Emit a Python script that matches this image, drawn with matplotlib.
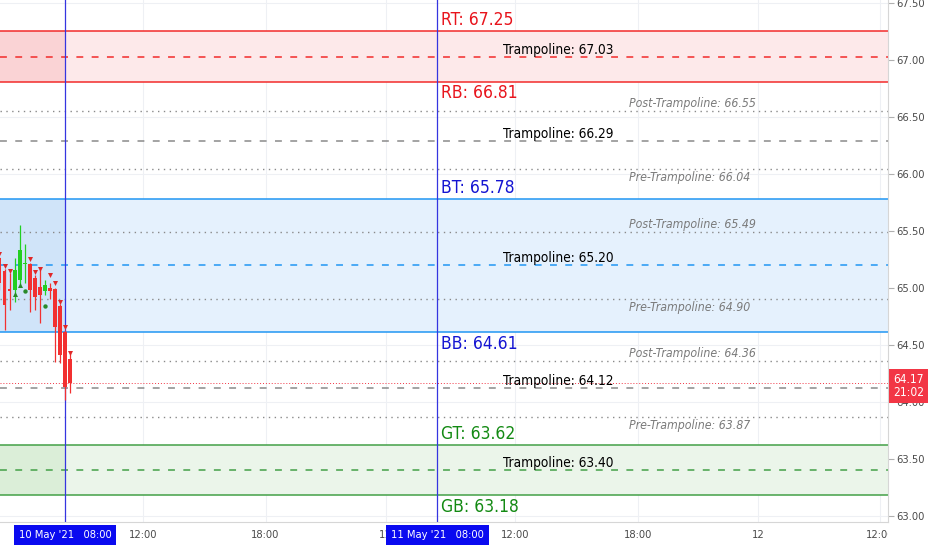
import matplotlib
matplotlib.use("Agg")
import matplotlib.pyplot as plt
from matplotlib.transforms import Bbox, TransformedBbox, blended_transform_factory
import numpy as np

# ---- levels -------------------------------------------------------------
zone_tags = ["R", "B", "G"]
zone_top = [67.25, 65.78, 63.62]
zone_bottom = [66.81, 64.61, 63.18]
zone_mid = [67.03, 65.20, 63.40]
gray_mid = [66.29, 64.12]
post_levels = [66.55, 65.49, 64.36]
pre_levels = [66.04, 64.90, 63.87]
last_price = 64.17
last_time = "21:02"

# ---- 15 min candles, x = bar index from 10 May '21 08:00 ----------------
bar_x = list(range(-13, 2))
opens = [65.26, 65.15, 64.99, 64.98, 65.07, 65.21, 65.21, 65.09, 65.01, 64.97,
         65.00, 64.99, 64.84, 64.61, 64.38]
highs = [65.27, 65.17, 65.13, 65.26, 65.55, 65.39, 65.22, 65.11, 65.16, 65.07,
         65.04, 65.00, 64.86, 64.63, 64.43]
lows = [64.98, 64.63, 64.81, 64.88, 65.03, 65.04, 64.79, 64.81, 64.69, 64.94,
        64.90, 64.35, 64.34, 64.02, 64.08]
closes = [65.04, 64.85, 64.97, 65.16, 65.33, 65.22, 64.98, 64.92, 64.94, 65.03,
          64.97, 64.66, 64.41, 64.13, 64.17]

# signal markers (bar, price)
sell_x = [-13, -12, -11, -7, -6, -5, -3, -2, -1, 0, 1]
sell_y = [65.30, 65.19, 65.15, 65.25, 65.14, 65.17, 65.11, 65.04, 64.88, 64.66, 64.43]
buy_x = [-10, -9]
buy_y = [64.95, 65.03]
dot_x = [-8, -4]
dot_y = [64.97, 64.84]

# ---- axis ---------------------------------------------------------------
session_x = [0, 73.7]
session_labels = ["10 May '21   08:00", "11 May '21   08:00"]
tick_x = [15.5, 39.7, 63.5, 89.2, 113.4, 137.3, 161.5]
tick_labels = ["12:00", "18:00", "11", "12:00", "18:00", "12", "12:00"]
price_ticks = np.arange(63.0, 67.51, 0.5)

colors = {"R": "#f22b2b", "B": "#2196f3", "G": "#43a047"}
text_colors = {"R": "#e8141c", "B": "#1414d2", "G": "#138a13"}
band_fill = {"R": "#fde9ea", "B": "#e5f1fd", "G": "#ebf5ea"}
band_fill_left = {"R": "#fad3d5", "B": "#d0e4f9", "G": "#dbeed8"}

FONT = dict(family="DejaVu Sans", fontstretch="condensed")

fig = plt.figure(figsize=(9.32, 5.5), dpi=100)
ax = fig.add_axes([0, 28 / 550, 888 / 932, 522 / 550])
ax.set_xlim(-12.9, 163.0)
ax.set_ylim(62.947, 67.526)

# grid
for p in price_ticks:
    ax.axhline(p, color="#eef0f4", lw=0.8, zorder=0)
for t in tick_x:
    ax.axvline(t, color="#eef0f4", lw=0.8, zorder=0)

# zones
x0, x1 = ax.get_xlim()
for tag, top, bot, mid in zip(zone_tags, zone_top, zone_bottom, zone_mid):
    ax.axhspan(bot, top, color=band_fill[tag], lw=0, zorder=0.5)
    ax.fill_between([x0, session_x[0]], bot, top, color=band_fill_left[tag], lw=0, zorder=0.6)
    ax.axhline(top, color=colors[tag], lw=1.1, zorder=2)
    ax.axhline(bot, color=colors[tag], lw=1.1, zorder=2)
    ax.axhline(mid, color=colors[tag], lw=1.1, ls=(0, (4.5, 5.5)), zorder=2)
    ax.annotate(f"{tag}T: {top:.2f}", (74.5, top), xytext=(0, 1.5), textcoords="offset points",
                va="bottom", ha="left", color=text_colors[tag], fontsize=12.5, **FONT)
    ax.annotate(f"{tag}B: {bot:.2f}", (74.5, bot), xytext=(0, -1.5), textcoords="offset points",
                va="top", ha="left", color=text_colors[tag], fontsize=12.5, **FONT)

for lvl in gray_mid:
    ax.axhline(lvl, color="#8a8a8a", lw=1.1, ls=(0, (4.5, 5.5)), zorder=2)

for lvl in zone_mid + gray_mid:
    ax.annotate(f"Trampoline: {lvl:.2f}", (86.8, lvl), xytext=(0, 0), textcoords="offset points",
                va="bottom", ha="left", color="black", fontsize=9.8, zorder=5, **FONT)

for lvl in post_levels:
    ax.axhline(lvl, color="#8a8a8a", lw=1.0, ls=(0, (1, 3.2)), zorder=2)
    ax.annotate(f"Post-Trampoline: {lvl:.2f}", (111.6, lvl), xytext=(0, 1), textcoords="offset points",
                va="bottom", ha="left", color="#7a7a7a", fontsize=8.8, style="italic", **FONT)
for lvl in pre_levels:
    ax.axhline(lvl, color="#8a8a8a", lw=1.0, ls=(0, (1, 3.2)), zorder=2)
    ax.annotate(f"Pre-Trampoline: {lvl:.2f}", (111.6, lvl), xytext=(0, -1.5), textcoords="offset points",
                va="top", ha="left", color="#7a7a7a", fontsize=8.8, style="italic", **FONT)

# current price line
ax.axhline(last_price, color="#f23645", lw=0.7, ls=(0, (1, 2)), zorder=2.5)

# session lines
for sx in session_x:
    ax.axvline(sx, color="#3535e0", lw=0.9, zorder=3)

# candles
o, h, l, c = map(np.asarray, (opens, highs, lows, closes))
up = c >= o
candle_col = np.where(up, "#22cf22", "#f23030")
ax.vlines(bar_x, l, h, colors=candle_col, lw=0.9, zorder=4)
ax.bar(bar_x, np.maximum(np.abs(c - o), 0.01), bottom=np.minimum(o, c), width=0.74,
       color=candle_col, lw=0, zorder=4)
ax.scatter(sell_x, sell_y, marker="v", s=13, color="#e02828", lw=0, zorder=5)
ax.scatter(buy_x, buy_y, marker="^", s=13, color="#2a8a2a", lw=0, zorder=5)
ax.scatter(dot_x, dot_y, marker="o", s=10, color="#2a8a2a", lw=0, zorder=5)

# axes styling
for side in ["top", "left"]:
    ax.spines[side].set_visible(False)
ax.spines["right"].set_color("#d6d6d6")
ax.spines["bottom"].set_color("#d6d6d6")
ax.yaxis.tick_right()
ax.set_yticks(price_ticks)
ax.set_yticklabels([f"{p:.2f}" for p in price_ticks])
ax.tick_params(axis="y", length=4, width=0.8, color="#b0b0b0", pad=2, labelcolor="#4a4a4a",
               labelsize=8)
ax.set_xticks(tick_x)
ax.set_xticklabels(tick_labels)
ax.tick_params(axis="x", length=0, pad=6, labelcolor="#4a4a4a", labelsize=8)
clip = TransformedBbox(Bbox([[0, -1], [1, 2]]), ax.transAxes)
for lbl in ax.get_xticklabels() + ax.get_yticklabels():
    lbl.set_fontstretch("condensed")
for lbl in ax.get_xticklabels():
    lbl.set_clip_box(clip)
    lbl.set_clip_on(True)

# session date boxes
bx = blended_transform_factory(ax.transData, ax.transAxes)
for sx, lab in zip(session_x, session_labels):
    ax.text(sx, -0.024, lab, transform=bx, ha="center", va="center", color="white",
            fontsize=8, clip_on=False, zorder=20, **FONT,
            bbox=dict(boxstyle="square,pad=0.45", fc="#0a0af0", ec="none"))

# last price tag
by = blended_transform_factory(ax.transAxes, ax.transData)
ax.annotate(f"{last_price:.2f}\n{last_time}", (1.0, last_price), xycoords=by,
            xytext=(3.5, -2.5), textcoords="offset points", ha="left", va="center",
            color="white", fontsize=8.6, linespacing=1.05, annotation_clip=False, zorder=20,
            bbox=dict(boxstyle="square,pad=0.35", fc="#f23645", ec="none"), **FONT)

fig.savefig("out.png", dpi=100, facecolor="white")
